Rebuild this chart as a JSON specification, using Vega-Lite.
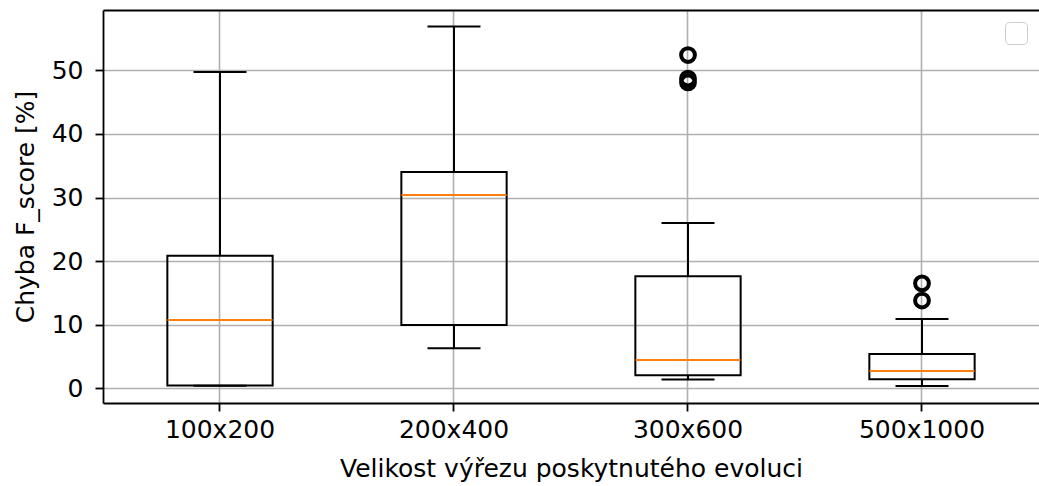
{
  "$schema": "https://vega.github.io/schema/vega-lite/v6.json",
  "width": 936,
  "height": 393,
  "autosize": {"type": "none"},
  "padding": {"left": 103, "top": 10, "right": 0, "bottom": 83},
  "background": "white",
  "config": {
    "view": {"stroke": null},
    "font": "DejaVu Sans",
    "axis": {
      "labelFont": "DejaVu Sans",
      "titleFont": "DejaVu Sans",
      "labelFontSize": 25,
      "titleFontSize": 25,
      "labelColor": "black",
      "titleColor": "black",
      "titleFontWeight": "normal",
      "domainColor": "black",
      "domainWidth": 1.8,
      "tickColor": "black",
      "tickWidth": 1.8,
      "tickSize": 8,
      "gridColor": "#b0b0b0",
      "gridWidth": 1.6,
      "gridOpacity": 1
    }
  },
  "datasets": {
    "boxes": [
      {"velikost": "100x200", "lower": 0.4, "q1": 0.45, "median": 10.73, "q3": 20.85, "upper": 49.75},
      {"velikost": "200x400", "lower": 6.28, "q1": 9.95, "median": 30.4, "q3": 34.0, "upper": 56.9},
      {"velikost": "300x600", "lower": 1.4, "q1": 2.05, "median": 4.45, "q3": 17.6, "upper": 26.0},
      {"velikost": "500x1000", "lower": 0.36, "q1": 1.41, "median": 2.72, "q3": 5.39, "upper": 10.9}
    ],
    "outliers": [
      {"velikost": "300x600", "chyba": 52.4},
      {"velikost": "300x600", "chyba": 48.7},
      {"velikost": "300x600", "chyba": 48.1},
      {"velikost": "500x1000", "chyba": 16.5},
      {"velikost": "500x1000", "chyba": 13.8}
    ]
  },
  "resolve": {"axis": {"x": "independent"}},
  "layer": [
    {
      "data": {"name": "boxes"},
      "mark": {"type": "rule", "color": "black", "strokeWidth": 2},
      "encoding": {
        "x": {
          "field": "velikost",
          "type": "nominal",
          "sort": null,
          "scale": {"paddingInner": 0.55, "paddingOuter": 0.275},
          "axis": {
            "orient": "bottom",
            "title": "Velikost výřezu poskytnutého evoluci",
            "labelAngle": 0,
            "labelPadding": 6,
            "titlePadding": 14,
            "grid": true,
            "domain": true,
            "ticks": true
          }
        },
        "y": {
          "field": "lower",
          "type": "quantitative",
          "scale": {"domain": [-2.31, 59.48], "nice": false, "zero": false},
          "axis": {
            "title": "Chyba F_score [%]",
            "values": [0, 10, 20, 30, 40, 50],
            "grid": true,
            "labelPadding": 12,
            "titlePadding": 13
          }
        },
        "y2": {"field": "q1"}
      }
    },
    {
      "data": {"name": "boxes"},
      "mark": {"type": "rule", "color": "black", "strokeWidth": 2},
      "encoding": {
        "x": {"field": "velikost", "type": "nominal", "sort": null, "axis": null},
        "y": {"field": "q3", "type": "quantitative"},
        "y2": {"field": "upper"}
      }
    },
    {
      "data": {"name": "boxes"},
      "mark": {"type": "tick", "color": "black", "thickness": 2, "size": 53, "opacity": 1},
      "encoding": {
        "x": {"field": "velikost", "type": "nominal", "sort": null, "axis": null},
        "y": {"field": "lower", "type": "quantitative"}
      }
    },
    {
      "data": {"name": "boxes"},
      "mark": {"type": "tick", "color": "black", "thickness": 2, "size": 53, "opacity": 1},
      "encoding": {
        "x": {"field": "velikost", "type": "nominal", "sort": null, "axis": null},
        "y": {"field": "upper", "type": "quantitative"}
      }
    },
    {
      "data": {"name": "boxes"},
      "mark": {"type": "bar", "fill": "white", "fillOpacity": 0, "stroke": "black", "strokeWidth": 2},
      "encoding": {
        "x": {
          "field": "velikost",
          "type": "nominal",
          "sort": null,
          "axis": {
            "orient": "top",
            "labels": false,
            "ticks": false,
            "grid": false,
            "title": null,
            "domain": true
          }
        },
        "y": {"field": "q1", "type": "quantitative"},
        "y2": {"field": "q3"}
      }
    },
    {
      "data": {"name": "boxes"},
      "mark": {"type": "tick", "thickness": 2, "size": 105, "opacity": 1},
      "encoding": {
        "x": {"field": "velikost", "type": "nominal", "sort": null, "axis": null},
        "y": {"field": "median", "type": "quantitative"},
        "color": {
          "datum": "median",
          "scale": {"range": ["#ff7f0e"]},
          "legend": {
            "title": null,
            "orient": "top-right",
            "offset": 12,
            "padding": 4,
            "strokeColor": "#cccccc",
            "fillColor": "white",
            "cornerRadius": 4,
            "symbolOpacity": 0,
            "symbolSize": 150,
            "labelExpr": "''",
            "labelOffset": 0,
            "labelFontSize": 12
          }
        }
      }
    },
    {
      "data": {"name": "outliers"},
      "mark": {"type": "point", "shape": "circle", "filled": false, "color": "black", "strokeWidth": 4, "size": 190, "opacity": 1},
      "encoding": {
        "x": {"field": "velikost", "type": "nominal", "sort": null, "axis": null},
        "y": {"field": "chyba", "type": "quantitative"}
      }
    }
  ]
}
